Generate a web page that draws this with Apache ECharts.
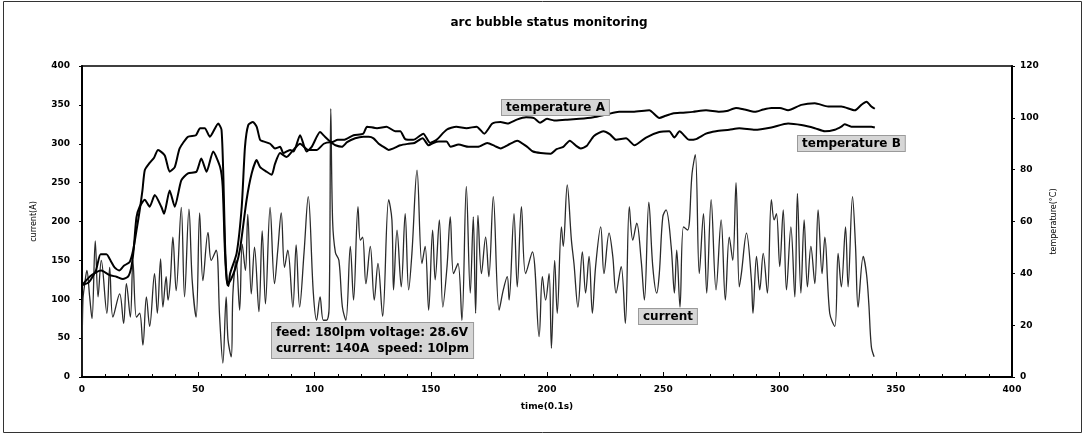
<!DOCTYPE html>
<html>
<head>
<meta charset="utf-8">
<script src="https://cdn.jsdelivr.net/npm/echarts@6/dist/echarts.min.js"></script>
<style>
html,body{margin:0;padding:0;background:#fff;}
#chart{width:1085px;height:435px;}
</style>
</head>
<body>
<div id="chart"></div>
<script>
// time (0.1 s), current (A)
var currentData = [
[0,2],[0.4,99],[1.2,120],[2.1,137],[3.3,103],[4.3,75],[5.7,175],[6.9,103],[8.3,150],[10.7,82],[11.9,141],[13.3,77],[16.2,107],[17.9,69],[19.1,120],[20.8,77],[21.9,150],[23.4,77],[24.8,82],[26.2,41],[27.7,103],[29.1,65],[31.2,133],[32.4,82],[33.8,152],[34.8,90],[36.2,129],[37,99],[38,124],[39.1,180],[40.5,111],[42.7,218],[44.1,103],[46,216],[47.4,124],[49.1,77],[50.6,211],[52,124],[54.2,186],[55.6,150],[57.7,163],[59.2,77],[60.6,18],[62,103],[62.8,48],[64.2,26],[64.9,107],[66.3,150],[67.8,86],[68.9,171],[70.3,137],[71.3,209],[72.8,107],[74.2,167],[76.1,84],[77.5,188],[78.9,94],[80.9,218],[82.8,120],[84.2,163],[85.7,211],[87.1,141],[88.5,163],[90.7,90],[92.1,170],[93.6,90],[95.5,160],[97.3,232],[99.5,108],[100.9,73],[102.4,103],[103.8,73],[105.2,73],[106.3,90],[107,345],[107.8,200],[109,160],[110.5,150],[112,90],[113.5,73],
[115.4,168],[116.8,99],[118.7,219],[119.7,176],[120.7,180],[122.1,120],[124,168],[125.7,99],[127.3,146],[129.3,78],[131.9,228],[133.3,202],[134,112],[135.5,189],[137.3,116],[139,210],[140.5,112],[141.9,159],[144.1,266],[146.2,146],[147.6,168],[149.1,86],[150.8,189],[151.9,125],[153.7,202],[155.2,90],[157,142],[158.4,206],[159.8,133],[161.7,146],[163.4,73],[165.3,245],[167,108],[168.3,206],[169.3,82],[170.3,208],[171.8,133],[173.6,180],[175,129],[176.9,232],[179.4,86],[181.2,112],[182.9,129],[183.7,99],[185.8,210],[187.2,116],[189,219],[190.8,133],[193.7,161],[196.6,52],[198,129],[199.4,99],[200.9,133],[201.9,37],[203.3,150],[204.4,82],[206.2,193],[207,168],[208.7,247],[210.5,176],[211.6,146],[213.3,90],[215.2,161],[216.6,108],[218.1,155],[219.5,82],[220.9,142],[223.1,193],[224.5,133],[226.7,185],[228.3,155],[229.7,108],[231.9,142],[233.7,69],[235.4,219],[236.9,176],[238.6,198],[240.5,150],[241.9,99],[243.8,225],[245.5,142],[247.2,108],[248.3,133],[249.8,206],[251.2,215],[253.4,168],[254.8,108],[255.8,163],[257.2,90],[258.7,193],[260.5,189],[262.4,262],[263.8,286],[265.5,133],[267.3,210],[268.7,108],[270.6,228],[272.7,112],[274.9,202],[276.7,99],[278.4,180],[279.9,150],[281.3,250],[282.7,116],[283.6,133],[285.8,185],[287.9,125],[288.6,82],[290.1,155],[291.5,112],[293,159],[294.8,108],[296.5,228],[297.7,202],[298.7,210],[300.1,142],[301.6,215],[303,112],[304.9,193],[306.6,103],[307.7,236],[309.2,108],[310.6,202],[312,116],[313.5,168],[315.2,120],[316.6,215],[318.3,133],[319.5,180],[321.6,82],[323.8,65],[325.2,159],[326.6,116],[328.4,193],[329.5,116],[331.4,232],[332.7,168],[333.8,90],[336,155],[337.4,133],[338.4,95],[339.5,39],[340.7,26]
];
// time (0.1 s), temperature A (°C)
var tempAData = [
[0,35.4],[3,36.6],[6,41.1],[8,47.4],[10.5,47.4],[12.6,44.4],[14,42.3],[16,41.1],[18,42.9],[20.5,44.4],[22,48.9],[23.4,56.4],[24.8,64.2],[26,72.0],[27,79.8],[29,82.5],[31,84.6],[32.7,87.6],[35.6,85.5],[37.7,79.2],[39.9,81.0],[42,88.2],[45.6,92.7],[49,93.3],[50.8,96.0],[52.8,96.0],[55,92.7],[58.6,97.8],[60,95.4],[60.8,77.4],[61.5,51.6],[62.3,37.5],[63,35.1],[63.7,39.9],[66.5,47.7],[68.7,65.7],[70.1,88.8],[71.5,97.2],[73.5,98.4],[75.1,96.6],[76.6,91.5],[78,90.9],[80.9,90.0],[83,88.2],[85.2,88.8],[86.6,86.4],[89.5,87.6],[91,87.0],[93.8,93.3],[96.6,87.0],[98.8,88.8],[102.4,94.5],[104.5,92.7],[107.4,90.6],[110,91.5],[112.5,91.5],[116.8,93.3],[121,93.9],[122.6,96.6],[126.9,96.0],[131,96.6],[134.7,94.8],[136.9,94.8],[139,91.8],[142.5,91.5],[146.8,93.9],[149.7,90.3],[152.5,91.5],[156.8,95.4],[161,96.6],[165.4,96.0],[169.7,96.6],[173,93.9],[176.5,97.8],[180,98.4],[183,97.8],[187,99.3],[191,100.2],[194.4,99.9],[197,98.1],[200,99.6],[203,99.0],[208,99.3],[214,99.6],[220,100.2],[226,101.4],[231,102.3],[237,102.3],[244,102.9],[248.3,99.9],[251,100.8],[254.1,101.7],[258,102.0],[262.7,102.3],[268.4,102.9],[274.1,102.3],[277.3,102.6],[281.3,103.8],[285,103.2],[289.4,102.3],[293,103.2],[296.5,103.8],[300.2,103.8],[303.7,102.9],[309.4,105.0],[315.2,105.6],[320.9,104.4],[326.6,104.4],[332.4,102.9],[335.2,105.0],[337.4,106.2],[339.5,104.4],[341,103.5]
];
// time (0.1 s), temperature B (°C)
var tempBData = [
[0,35.4],[3.3,38.7],[6.2,40.5],[8.3,41.1],[11.9,39.3],[14.8,38.7],[17.6,37.8],[19.8,38.7],[21.2,42.3],[22.2,48.9],[23.4,61.5],[24.8,65.7],[27,68.4],[29.1,65.7],[31.3,70.2],[34.1,65.7],[35.3,63.0],[37.7,72.0],[39.9,65.7],[42.7,75.9],[45.6,78.6],[49.2,79.2],[51.3,84.3],[53.6,79.2],[56.4,87.0],[59.4,81.0],[60.5,73.5],[61.5,48.0],[62.5,35.4],[64,37.5],[66,42.0],[68,49.5],[70.8,68.4],[73,78.6],[75.1,83.7],[76.6,81.0],[79.4,79.2],[81.6,78.0],[83,82.2],[85.2,86.4],[88,84.9],[90.9,87.6],[93.8,90.0],[97.3,87.6],[100.9,87.6],[104,90.0],[106.7,90.6],[109,89.4],[111.8,88.8],[114,90.6],[117.5,92.1],[121,92.7],[123.3,92.7],[125.4,92.1],[127.6,90.0],[129.7,88.8],[131.9,87.6],[134,88.2],[136.9,89.4],[140.5,90.0],[143,90.3],[146.5,92.1],[149.1,89.4],[151.1,90.3],[153.4,90.9],[156.8,90.9],[158.5,88.8],[162,89.7],[166.3,88.8],[170.3,88.8],[174.3,90.3],[177.6,89.1],[180.1,88.2],[183,89.4],[187.2,91.2],[191.5,88.8],[194,87.0],[197.3,86.4],[201.6,86.1],[204.1,87.9],[207,88.8],[209.8,91.2],[212.7,89.1],[214.5,88.2],[217,89.1],[220.2,93.0],[224.2,94.8],[227.1,93.6],[229.7,91.5],[234,92.1],[237.6,89.4],[242.6,92.4],[248.3,94.5],[252.6,94.8],[254.8,92.4],[257,94.8],[261.2,91.5],[264.1,91.8],[268.4,93.9],[272.7,94.8],[278.4,95.4],[282.7,96.0],[289.4,95.4],[296.5,96.3],[303.7,97.8],[309.4,97.2],[315.2,96.0],[319.5,94.8],[323.8,95.4],[326.6,96.6],[328,97.5],[330.9,96.6],[335.2,96.6],[339.5,96.6],[341,96.3]
];
var titleText = 'arc bubble status monitoring';
var xName = 'time(0.1s)';
var yLeftName = 'current(A)';
var yRightName = 'temperature(°C)';
var labelA = 'temperature A';
var labelB = 'temperature B';
var labelCurrent = 'current';
var noteText = 'feed: 180lpm voltage: 28.6V\ncurrent: 140A  speed: 10lpm';

var FONT = '"DejaVu Sans", Arial, sans-serif';
var chart = echarts.init(document.getElementById('chart'), null, {renderer: 'canvas'});
var axisLabelStyle = {color: '#000', fontFamily: FONT, fontWeight: 'bold', fontSize: 9};
function boxLabel(text, x, y, extra) {
  var s = {
    text: text, x: x, y: y, fill: '#000',
    font: 'bold 12px ' + FONT,
    backgroundColor: '#d6d6d6', borderColor: '#9a9a9a', borderWidth: 1,
    padding: [2, 4, 1, 4]
  };
  for (var k in extra) s[k] = extra[k];
  return {type: 'text', z: 100, style: s};
}
chart.setOption({
  animation: false,
  backgroundColor: '#fff',
  title: {
    text: titleText, left: 544, top: 12, textAlign: 'center',
    textStyle: {fontFamily: FONT, fontWeight: 'bold', fontSize: 12, color: '#000'}
  },
  grid: {left: 82, right: 73, top: 66, bottom: 58, show: true, borderColor: '#000', borderWidth: 1.5},
  xAxis: {
    type: 'value', min: 0, max: 400, interval: 50,
    name: xName, nameLocation: 'middle', nameGap: 25,
    nameTextStyle: {fontFamily: FONT, fontWeight: 'bold', fontSize: 9, color: '#000'},
    axisLine: {lineStyle: {color: '#000', width: 2}},
    axisTick: {inside: true, length: 5, lineStyle: {color: '#000'}},
    minorTick: {show: true, splitNumber: 5, length: 3, lineStyle: {color: '#000'}},
    splitLine: {show: false},
    axisLabel: Object.assign({margin: 8}, axisLabelStyle)
  },
  yAxis: [{
    type: 'value', min: 0, max: 400, interval: 50,
    name: yLeftName, nameLocation: 'middle', nameGap: 44, nameRotate: 90,
    nameTextStyle: {fontFamily: FONT, fontSize: 8, color: '#000'},
    axisLine: {show: true, lineStyle: {color: '#000', width: 2}},
    axisTick: {show: true, length: 3, lineStyle: {color: '#000'}},
    splitLine: {show: false},
    axisLabel: Object.assign({margin: 12}, axisLabelStyle)
  }, {
    type: 'value', min: 0, max: 120, interval: 20, position: 'right',
    name: yRightName, nameLocation: 'middle', nameGap: 38, nameRotate: 90,
    nameTextStyle: {fontFamily: FONT, fontSize: 8, color: '#000'},
    axisLine: {show: true, lineStyle: {color: '#000', width: 2}},
    axisTick: {show: true, length: 3, lineStyle: {color: '#000'}},
    splitLine: {show: false},
    axisLabel: Object.assign({margin: 8}, axisLabelStyle)
  }],
  series: [{
    name: 'current', type: 'line', yAxisIndex: 0, data: currentData,
    showSymbol: false, smooth: 0.35,
    lineStyle: {color: '#2a2a2a', width: 1.3}
  }, {
    name: 'temperature A', type: 'line', yAxisIndex: 1, data: tempAData,
    showSymbol: false, smooth: 0.2,
    lineStyle: {color: '#000', width: 2}
  }, {
    name: 'temperature B', type: 'line', yAxisIndex: 1, data: tempBData,
    showSymbol: false, smooth: 0.2,
    lineStyle: {color: '#000', width: 2}
  }],
  graphic: [
    {type: 'rect', shape: {x: 3.5, y: 1.5, width: 1078, height: 431}, style: {fill: 'none', stroke: '#333', lineWidth: 1}, silent: true},
    boxLabel(labelA, 502, 100, {}),
    boxLabel(labelB, 798, 136, {}),
    boxLabel(labelCurrent, 639, 309, {}),
    boxLabel(noteText, 272, 323, {lineHeight: 16})
  ]
});
</script>
</body>
</html>
